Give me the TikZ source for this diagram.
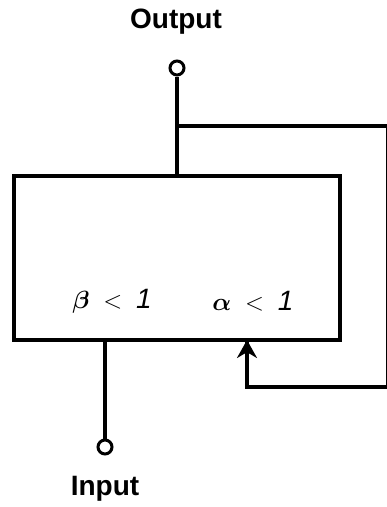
\documentclass[tikz,border=0pt]{standalone}
\usepackage{amsmath}
\usepackage{bm}
\usepackage{fontspec}
\setmainfont{Liberation Sans}
\usetikzlibrary{arrows.meta}
\begin{document}
\begin{tikzpicture}[x=1pt,y=-1pt,
  wire/.style={line width=4.5pt},
  term/.style={circle,draw,line width=3pt,minimum size=14pt,inner sep=0pt,fill=white},
  lbl/.style={font=\bfseries\fontsize{28}{30}\selectfont},
  glabel/.style={font=\fontsize{28}{30}\selectfont}]
\useasboundingbox (0,0) rectangle (387,507);
\node[draw,line width=4.5pt,minimum width=326pt,minimum height=164pt,inner sep=0pt] (box) at (177,258) {};
\node[term] (out) at (177,68) {};
\node[term] (in) at (105,447) {};
\node[lbl] (outl) at (176,22) {Output};
\node[lbl] (inl) at (105,489) {Input};
\node[glabel] (beta) at (112,301) {$\bm{\beta} \;<\; \mathit{1}$};
\node[glabel] (alpha) at (253,301) {$\bm{\alpha} \;<\; \mathit{1}$};
\coordinate (bt) at (177,176);
\coordinate (br) at (177,126);
\coordinate (r1) at (388,126);
\coordinate (r2) at (388,387);
\coordinate (a1) at (247,387);
\coordinate (a2) at (247,340);
\coordinate (ib) at (105,340);
\draw[wire] (out) -- (bt);
\draw[wire] (br) -- (r1) -- (r2) -- (a1) -- (a2);
\draw[line width=4.5pt,-{Stealth[length=18pt,width=20pt]}] (a1) -- (a2);
\draw[wire] (ib) -- (in);
\end{tikzpicture}
\end{document}
